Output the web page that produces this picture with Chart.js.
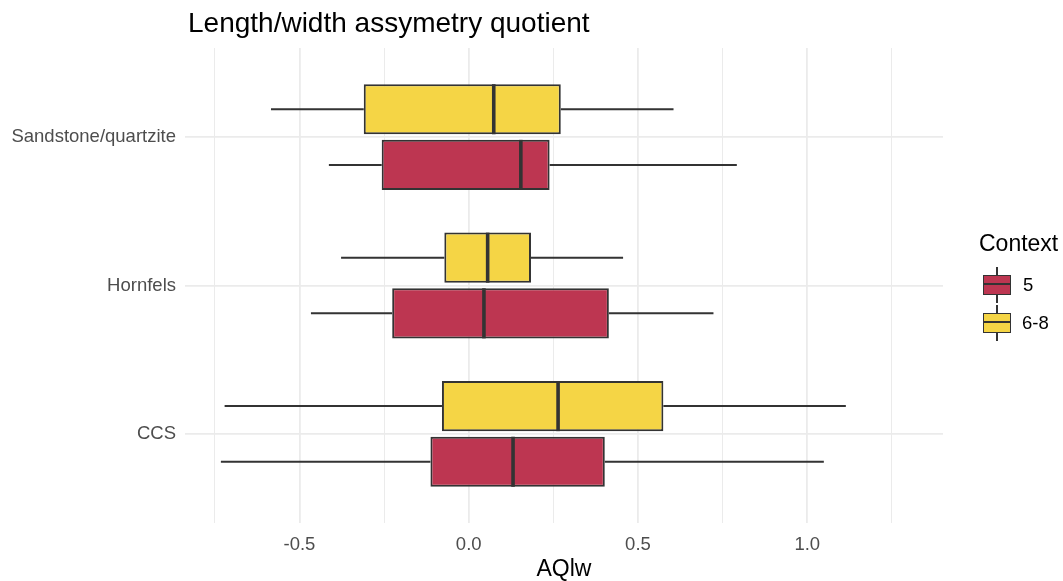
<!DOCTYPE html>
<html>
<head>
<meta charset="utf-8">
<title>Length/width assymetry quotient</title>
<script src="https://cdn.jsdelivr.net/npm/chart.js@4.4.1/dist/chart.umd.min.js"></script>
<style>
  html, body { margin: 0; padding: 0; background: #ffffff; }
  #wrap { position: relative; width: 1063px; height: 581px;
          font-family: 'Liberation Sans', Arial, Helvetica, sans-serif; }
  #chart { position: absolute; left: 0; top: 0; }
  .txt { position: absolute; white-space: nowrap; line-height: 1; }
  #title { left: 188px; top: 9px; font-size: 28px; color: #000; }
  #xtitle { left: 185px; width: 758px; top: 557px; font-size: 23px; color: #000; text-align: center; }
  #legtitle { left: 979px; top: 232px; font-size: 23px; color: #000; }
  .leglab { font-size: 18.5px; color: #000; left: 1023px; }
  .key { position: absolute; left: 983px; width: 28px; height: 36px; }
  .key .wh { position: absolute; left: 13.1px; top: 0; width: 1.8px; height: 36px; background: #333; }
  .key .bx { position: absolute; left: 0; top: 8px; width: 28px; height: 20px;
             box-sizing: border-box; border: 1.8px solid #333; }
  .key .md { position: absolute; left: 0; top: 7.3px; width: 100%; height: 1.8px; background: #333; }
</style>
</head>
<body>
<div id="wrap">
  <canvas id="chart" width="1063" height="581"></canvas>
  <div id="title" class="txt">Length/width assymetry quotient</div>
  <div id="xtitle" class="txt">AQlw</div>
  <div id="legtitle" class="txt">Context</div>
  <div class="key" id="key0" style="top:267px"><div class="wh"></div><div class="bx"><div class="md"></div></div></div>
  <div class="key" id="key1" style="top:305px"><div class="wh"></div><div class="bx"><div class="md"></div></div></div>
  <div class="txt leglab" id="lab0" style="top:276px"></div>
  <div class="txt leglab" id="lab1" style="top:314px;left:1022px"></div>
</div>
<script>
// Rock types, listed bottom to top as they appear on the vertical axis
const categories = ['CCS', 'Hornfels', 'Sandstone/quartzite'];
const catPositions = [1, 2, 3];

// Context groups
const groups = ['5', '6-8'];
const groupColors = ['#BD3651', '#F5D545'];

// Context 5: five-number summaries per rock type
const lowWhisker5 = [-0.732, -0.466, -0.413];
const q1_5        = [-0.113, -0.226, -0.257];
const median5     = [ 0.131,  0.045,  0.154];
const q3_5        = [ 0.402,  0.414,  0.239];
const highWhisker5 = [1.049,  0.723,  0.792];

// Context 6-8
const lowWhisker68 = [-0.721, -0.377, -0.584];
const q1_68        = [-0.079, -0.072, -0.310];
const median68     = [ 0.264,  0.056,  0.074];
const q3_68        = [ 0.575,  0.184,  0.272];
const highWhisker68 = [1.114,  0.456,  0.605];

// Horizontal axis: labelled major ticks and unlabelled minor grid lines
const xTickValues = [-0.5, 0, 0.5, 1.0];
const xTickLabels = ['-0.5', '0.0', '0.5', '1.0'];
const xMinorValues = [-0.75, -0.25, 0.25, 0.75, 1.25];

const GRID = '#EBEBEB';
const EDGE = '#333333';

Chart.defaults.font.family = "'Liberation Sans', Arial, Helvetica, sans-serif";

function boxData(q1, q3) {
  return catPositions.map((p, i) => ({ x: [q1[i], q3[i]], y: p }));
}

// dataset 0 sits in the upper slot of each group, so 6-8 goes first
const datasets = [
  { label: groups[1], data: boxData(q1_68, q3_68), backgroundColor: groupColors[1],
    stats: { lo: lowWhisker68, med: median68, hi: highWhisker68 } },
  { label: groups[0], data: boxData(q1_5, q3_5), backgroundColor: groupColors[0],
    stats: { lo: lowWhisker5, med: median5, hi: highWhisker5 } }
].map(d => Object.assign(d, {
  borderColor: EDGE, borderWidth: 2, borderSkipped: false,
  categoryPercentage: 0.75, barPercentage: 0.9
}));

// whiskers behind the boxes, medians on top
const boxplotParts = {
  id: 'boxplotParts',
  beforeDatasetsDraw(chart) {
    const ctx = chart.ctx, xs = chart.scales.x;
    ctx.save();
    ctx.strokeStyle = EDGE;
    ctx.lineWidth = 2;
    chart.data.datasets.forEach((ds, di) => {
      chart.getDatasetMeta(di).data.forEach((el, i) => {
        const y = el.y;
        ctx.beginPath();
        ctx.moveTo(xs.getPixelForValue(ds.stats.lo[i]), y);
        ctx.lineTo(xs.getPixelForValue(ds.data[i].x[0]), y);
        ctx.moveTo(xs.getPixelForValue(ds.data[i].x[1]), y);
        ctx.lineTo(xs.getPixelForValue(ds.stats.hi[i]), y);
        ctx.stroke();
      });
    });
    ctx.restore();
  },
  afterDatasetsDraw(chart) {
    const ctx = chart.ctx, xs = chart.scales.x;
    ctx.save();
    ctx.strokeStyle = EDGE;
    ctx.lineWidth = 3.6;
    chart.data.datasets.forEach((ds, di) => {
      chart.getDatasetMeta(di).data.forEach((el, i) => {
        const x = xs.getPixelForValue(ds.stats.med[i]);
        const h = el.height / 2;
        ctx.beginPath();
        ctx.moveTo(x, el.y - h);
        ctx.lineTo(x, el.y + h);
        ctx.stroke();
      });
    });
    ctx.restore();
  }
};

new Chart(document.getElementById('chart'), {
  type: 'bar',
  data: { datasets },
  plugins: [boxplotParts],
  options: {
    indexAxis: 'y',
    responsive: false,
    animation: false,
    layout: { padding: { top: 48, right: 120, left: 0, bottom: 0 } },
    plugins: { legend: { display: false }, tooltip: { enabled: false }, title: { display: false } },
    scales: {
      x: {
        type: 'linear',
        min: -0.838,
        max: 1.401,
        afterBuildTicks: s => {
          s.ticks = xMinorValues.concat(xTickValues).sort((a, b) => a - b).map(v => ({ value: v }));
        },
        afterFit: s => { s.height = 58; },
        ticks: {
          autoSkip: false, maxRotation: 0, padding: 11,
          color: '#4D4D4D', font: { size: 18.5 },
          callback: v => {
            const k = xTickValues.indexOf(v);
            return k >= 0 ? xTickLabels[k] : '';
          }
        },
        grid: {
          color: GRID, drawTicks: false,
          lineWidth: c => (c.tick && xTickValues.includes(c.tick.value)) ? 1.8 : 1.0
        },
        border: { display: false }
      },
      y: {
        type: 'linear',
        min: 0.4,
        max: 3.6,
        offset: false,
        afterBuildTicks: s => { s.ticks = catPositions.map(v => ({ value: v })); },
        afterFit: s => { s.width = 185; },
        ticks: {
          autoSkip: false, padding: 9,
          color: '#4D4D4D', font: { size: 18.5 },
          callback: v => categories[catPositions.indexOf(v)]
        },
        grid: { color: GRID, lineWidth: 1.8, drawTicks: false, offset: false },
        border: { display: false }
      }
    }
  }
});

// legend: Context 5 then 6-8
[0, 1].forEach(i => {
  document.querySelector('#key' + i + ' .bx').style.background = groupColors[i];
  document.getElementById('lab' + i).textContent = groups[i];
});
</script>
</body>
</html>
